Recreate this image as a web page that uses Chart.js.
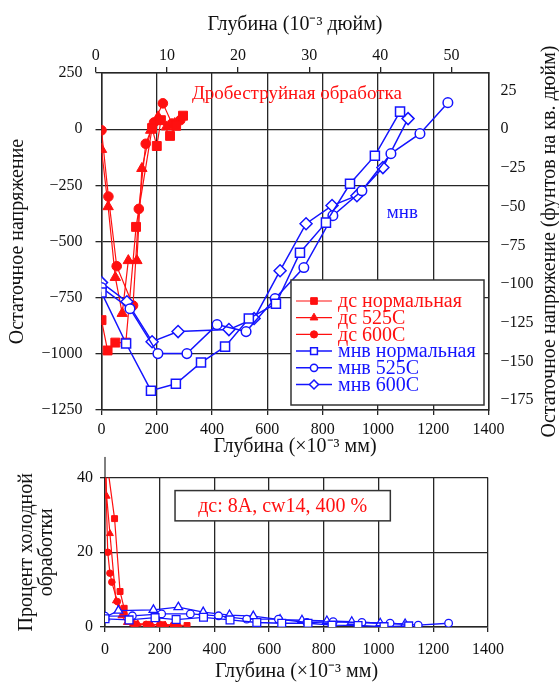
<!DOCTYPE html>
<html lang="ru">
<head>
<meta charset="UTF-8">
<title>Остаточное напряжение и процент холодной обработки</title>
<script src="https://cdn.jsdelivr.net/npm/chart.js"></script>
<style>
    html, body { margin: 0; padding: 0; background: #fff; overflow: hidden; }
    #wrap { position: relative; width: 559px; height: 685px; }
    canvas { position: absolute; left: 0; }
    #stressChart { top: 0; width: 559px; height: 470px; }
    #coldChart { top: 440px; width: 559px; height: 255px; }
</style>
</head>
<body>
<div id="wrap">
    <canvas id="stressChart" width="559" height="470"></canvas>
    <canvas id="coldChart" width="559" height="255"></canvas>
</div>
<script>
// ---- tick labels ----
const depthTicksMm = [0, 200, 400, 600, 800, 1000, 1200, 1400];
const depthTicksIn = [0, 10, 20, 30, 40, 50];
const stressTicksMpa = [-1250, -1000, -750, -500, -250, 0, 250];
const stressTicksKsi = [-175, -150, -125, -100, -75, -50, -25, 0, 25];
const coldTicks = [0, 20, 40];

// ---- residual stress, depth in 10^-3 mm ----
const dsNormDepth  = [0, 22, 50, 88, 125, 183, 200, 215, 248, 270, 295];
const dsNormStress = [-850, -985, -950, -950, -435, 5, -75, 40, -30, 15, 60];
const ds525Depth   = [0, 24, 50, 75, 97, 128, 146, 178, 205, 235, 265];
const ds525Stress  = [-90, -345, -660, -820, -585, -585, -175, -5, 55, 10, 25];
const ds600Depth   = [0, 25, 55, 114, 135, 160, 190, 222, 255, 285];
const ds600Stress  = [-5, -300, -610, -785, -355, -65, 30, 115, 25, 40];

const mnvNormDepth  = [0, 89, 179, 269, 360, 447, 533, 631, 718, 812, 899, 989, 1080];
const mnvNormStress = [-727, -954, -1164, -1133, -1039, -968, -843, -777, -550, -416, -243, -118, 78];
const mnv525Depth   = [0, 103, 204, 309, 418, 523, 628, 732, 837, 942, 1047, 1152, 1253];
const mnv525Stress  = [-705, -799, -999, -999, -870, -901, -754, -616, -385, -274, -109, -20, 118];
const mnv600Depth   = [0, 92, 183, 277, 461, 552, 646, 740, 834, 924, 1018, 1109];
const mnv600Stress  = [-683, -768, -946, -901, -892, -843, -630, -421, -340, -296, -171, 47];

// ---- cold work percent ----
const cwDsNormDepth = [0, 35, 55, 70, 85, 110, 160, 210, 260, 300];
const cwDsNormPct   = [48, 29, 9.5, 5, 2, 0.8, 0.7, 0.6, 0.5, 0.4];
const cwDs525Depth  = [0, 6, 18, 40, 60, 80, 120, 170, 220, 270];
const cwDs525Pct    = [48, 35, 25, 7, 3, 1.2, 0.8, 0.6, 0.5, 0.4];
const cwDs600Depth  = [0, 10, 18, 25, 45, 70, 100, 150, 200, 250];
const cwDs600Pct    = [48, 20, 14.4, 12, 6.8, 3.5, 1, 0.7, 0.6, 0.5];

const cwMnvNormDepth = [0, 88, 183, 260, 360, 457, 555, 646, 742, 830, 925, 1020, 1110];
const cwMnvNormPct   = [2.2, 1.9, 2.5, 2.0, 2.6, 1.9, 1.2, 1.0, 1.0, 0.5, 0.4, 0.1, 0.3];
const cwMnv525Depth  = [0, 100, 207, 312, 415, 518, 634, 738, 834, 939, 1042, 1145, 1256];
const cwMnv525Pct    = [2.9, 3.0, 3.5, 3.5, 3.0, 2.1, 2.1, 1.2, 1.4, 1.2, 1.0, 0.5, 1.0];
const cwMnv600Depth  = [0, 49, 177, 268, 359, 455, 542, 640, 720, 811, 902, 1006, 1097];
const cwMnv600Pct    = [2.6, 4.4, 4.6, 5.3, 4.0, 3.2, 2.9, 2.0, 1.8, 1.6, 1.4, 1.0, 0.8];

// off-scale arrow at zero depth
const arrowDepth = [0, 0];
const arrowPct = [40, 45.5];

const MPA_PER_KSI = 6.895;
const MM_PER_MIL = 25.4;

const FONT = '"Liberation Serif", "Times New Roman", serif';
const INK = '#111';
const GRID = '#262626';
const RED = '#ff1010';
const BLUE = '#1414ff';

const tickFont = { family: FONT, size: 16, lineHeight: 1.2 };
const titleFont = { family: FONT, size: 20, lineHeight: 1.0 };

function pts(xs, ys) {
    return xs.map((x, i) => ({ x: x, y: ys[i] }));
}

// plain numbers, with a real minus sign and no thousands separator
function plainNum(v) {
    return v < 0 ? '\u2212' + Math.abs(v) : String(v);
}

function fixedTicks(list) {
    return function(scale) {
        scale.ticks = list.map(v => ({ value: v }));
    };
}

function redSet(label, xs, ys, style, r) {
    return {
        label: label, data: pts(xs, ys), order: 1,
        borderColor: RED, backgroundColor: RED, borderWidth: 1.2,
        pointStyle: style, pointRadius: r, pointBorderWidth: 1,
        pointBackgroundColor: RED, pointBorderColor: RED
    };
}

function blueSet(label, xs, ys, style, r) {
    return {
        label: label, data: pts(xs, ys), order: 0,
        borderColor: BLUE, backgroundColor: '#fff', borderWidth: 1.5,
        pointStyle: style, pointRadius: r, pointBorderWidth: 1.5,
        pointBackgroundColor: '#fff', pointBorderColor: BLUE
    };
}

// simple marker painter for the hand drawn legend
function drawMarker(ctx, style, x, y, r) {
    ctx.beginPath();
    if (style === 'rect') {
        const s = r * Math.SQRT1_2;
        ctx.rect(x - s, y - s, 2 * s, 2 * s);
    } else if (style === 'triangle') {
        ctx.moveTo(x, y - r);
        ctx.lineTo(x + r * 0.866, y + r * 0.5);
        ctx.lineTo(x - r * 0.866, y + r * 0.5);
        ctx.closePath();
    } else if (style === 'rectRot') {
        ctx.moveTo(x, y - r);
        ctx.lineTo(x + r, y);
        ctx.lineTo(x, y + r);
        ctx.lineTo(x - r, y);
        ctx.closePath();
    } else {
        ctx.arc(x, y, r, 0, Math.PI * 2);
    }
    ctx.fill();
    ctx.stroke();
}

const stressLegend = {
    id: 'stressLegend',
    afterDatasetsDraw(chart) {
        const ctx = chart.ctx;
        ctx.save();
        ctx.fillStyle = '#fff';
        ctx.fillRect(291, 280, 193, 125);
        ctx.strokeStyle = '#333';
        ctx.lineWidth = 1.5;
        ctx.strokeRect(291, 280, 193, 125);
        chart.data.datasets.forEach((ds, i) => {
            const y = 301 + i * 16.7;
            ctx.strokeStyle = ds.borderColor;
            ctx.lineWidth = ds.borderWidth;
            ctx.beginPath();
            ctx.moveTo(296, y);
            ctx.lineTo(332, y);
            ctx.stroke();
            ctx.fillStyle = ds.pointBackgroundColor;
            ctx.strokeStyle = ds.pointBorderColor;
            ctx.lineWidth = ds.pointBorderWidth;
            drawMarker(ctx, ds.pointStyle, 314, y, ds.pointRadius * 0.75);
            ctx.fillStyle = ds.borderColor;
            ctx.font = '20px ' + FONT;
            ctx.textAlign = 'left';
            ctx.textBaseline = 'middle';
            ctx.fillText(ds.label, 338, y + 1);
        });
        ctx.restore();
    }
};

const stressNotes = {
    id: 'stressNotes',
    afterDraw(chart) {
        const ctx = chart.ctx;
        const x = chart.scales.x, y = chart.scales.y, area = chart.chartArea;
        ctx.save();
        ctx.font = '19px ' + FONT;
        ctx.textBaseline = 'middle';
        ctx.textAlign = 'left';
        ctx.fillStyle = RED;
        ctx.fillText('Дробеструйная обработка', x.getPixelForValue(327), y.getPixelForValue(158));
        ctx.fillStyle = BLUE;
        ctx.fillText('мнв', x.getPixelForValue(1032), y.getPixelForValue(-372));
        // right axis title reads bottom to top like the left one
        ctx.fillStyle = INK;
        ctx.font = '20px ' + FONT;
        ctx.textAlign = 'center';
        ctx.translate(550, (area.top + area.bottom) / 2);
        ctx.rotate(-Math.PI / 2);
        ctx.fillText('Остаточное напряжение (фунтов на кв. дюйм)', 0, 0);
        ctx.restore();
    }
};

const coldNote = {
    id: 'coldNote',
    afterDatasetsDraw(chart) {
        const ctx = chart.ctx;
        const x = chart.scales.x, y = chart.scales.y;
        const x0 = x.getPixelForValue(256), x1 = x.getPixelForValue(1043);
        const y0 = y.getPixelForValue(36.5), y1 = y.getPixelForValue(28.4);
        ctx.save();
        ctx.fillStyle = '#fff';
        ctx.fillRect(x0, y0, x1 - x0, y1 - y0);
        ctx.strokeStyle = '#333';
        ctx.lineWidth = 1.5;
        ctx.strokeRect(x0, y0, x1 - x0, y1 - y0);
        ctx.fillStyle = RED;
        ctx.font = '20px ' + FONT;
        ctx.textAlign = 'center';
        ctx.textBaseline = 'middle';
        ctx.fillText('дс: 8А, cw14, 400 %', (x0 + x1) / 2, (y0 + y1) / 2 + 1);
        ctx.restore();
    }
};

const stressChart = new Chart(document.getElementById('stressChart'), {
    type: 'line',
    data: {
        datasets: [
            redSet('дс нормальная', dsNormDepth, dsNormStress, 'rect', 6.3),
            redSet('дс 525С', ds525Depth, ds525Stress, 'triangle', 6),
            redSet('дс 600С', ds600Depth, ds600Stress, 'circle', 4.8),
            blueSet('мнв нормальная', mnvNormDepth, mnvNormStress, 'rect', 6.4),
            blueSet('мнв 525С', mnv525Depth, mnv525Stress, 'circle', 4.8),
            blueSet('мнв 600С', mnv600Depth, mnv600Stress, 'rectRot', 6)
        ]
    },
    options: {
        responsive: false,
        animation: false,
        layout: { padding: 0 },
        plugins: { legend: { display: false }, tooltip: { enabled: false } },
        scales: {
            x: {
                type: 'linear', position: 'bottom', min: 0, max: 1400,
                afterBuildTicks: fixedTicks(depthTicksMm),
                afterFit: s => { s.height = 60; },
                grid: { color: GRID, lineWidth: 1.3, tickLength: 5 },
                border: { color: GRID, width: 1.5 },
                ticks: { font: tickFont, color: INK, padding: 5, autoSkip: false, maxRotation: 0, callback: plainNum },
                title: { display: true, text: 'Глубина (×10⁻³ мм)', font: titleFont, color: INK, padding: { top: 0, bottom: 13 } }
            },
            x2: {
                type: 'linear', position: 'top', min: 0.8, max: 1400 / MM_PER_MIL + 0.1,
                afterBuildTicks: fixedTicks(depthTicksIn),
                afterFit: s => { s.height = 73; },
                grid: { drawOnChartArea: false, color: GRID, lineWidth: 1.3, tickLength: 6 },
                border: { color: GRID, width: 1.5 },
                ticks: { font: tickFont, color: INK, padding: 2, autoSkip: false, maxRotation: 0, callback: plainNum },
                title: { display: true, text: 'Глубина (10⁻³ дюйм)', font: titleFont, color: INK, padding: { top: 15, bottom: 0 } }
            },
            y: {
                type: 'linear', position: 'left', min: -1250, max: 250,
                afterBuildTicks: fixedTicks(stressTicksMpa),
                afterFit: s => { s.width = 101.5; },
                grid: { color: GRID, lineWidth: 1.3, tickLength: 6 },
                border: { color: GRID, width: 1.5 },
                ticks: { font: tickFont, color: INK, padding: 13, autoSkip: false, callback: plainNum },
                title: { display: true, text: 'Остаточное напряжение', font: titleFont, color: INK, padding: { top: 8, bottom: 0 } }
            },
            y2: {
                type: 'linear', position: 'right',
                min: -1250 / MPA_PER_KSI, max: 250 / MPA_PER_KSI,
                afterBuildTicks: fixedTicks(stressTicksKsi),
                afterFit: s => { s.width = 70.5; },
                grid: { drawOnChartArea: false, drawTicks: false },
                border: { color: GRID, width: 1.5 },
                ticks: { font: tickFont, color: INK, padding: 12, autoSkip: false, callback: plainNum }
            }
        }
    },
    plugins: [stressLegend, stressNotes]
});

function redCold(label, xs, ys, style, r) {
    const ds = redSet(label, xs, ys, style, r);
    ds.borderWidth = 1.2;
    return ds;
}

function blueCold(label, xs, ys, style, r) {
    const ds = blueSet(label, xs, ys, style, r);
    ds.borderWidth = 1.3;
    ds.pointBorderWidth = 1.3;
    return ds;
}

const coldChart = new Chart(document.getElementById('coldChart'), {
    type: 'line',
    data: {
        datasets: [
            {
                label: 'стрелка', data: pts(arrowDepth, arrowPct), order: -1, clip: false,
                borderColor: '#000', borderWidth: 1, pointStyle: 'triangle',
                pointRadius: [0, 3], pointBackgroundColor: '#000', pointBorderColor: '#000'
            },
            redCold('дс нормальная', cwDsNormDepth, cwDsNormPct, 'rect', 4.2),
            redCold('дс 525С', cwDs525Depth, cwDs525Pct, 'triangle', 4),
            redCold('дс 600С', cwDs600Depth, cwDs600Pct, 'circle', 3.3),
            blueCold('мнв нормальная', cwMnvNormDepth, cwMnvNormPct, 'rect', 5.5),
            blueCold('мнв 525С', cwMnv525Depth, cwMnv525Pct, 'circle', 3.8),
            blueCold('мнв 600С', cwMnv600Depth, cwMnv600Pct, 'triangle', 5)
        ]
    },
    options: {
        responsive: false,
        animation: false,
        layout: { padding: { top: 37.5, right: 71, left: 0, bottom: 0 } },
        plugins: { legend: { display: false }, tooltip: { enabled: false } },
        scales: {
            x: {
                type: 'linear', position: 'bottom', min: 0, max: 1400,
                afterBuildTicks: fixedTicks(depthTicksMm),
                afterFit: s => { s.height = 68; },
                grid: { color: GRID, lineWidth: 1.3, tickLength: 5 },
                border: { color: GRID, width: 1.5 },
                ticks: { font: tickFont, color: INK, padding: 8, autoSkip: false, maxRotation: 0, callback: plainNum },
                title: { display: true, text: 'Глубина (×10⁻³ мм)', font: titleFont, color: INK, padding: { top: 0, bottom: 13 } }
            },
            y: {
                type: 'linear', position: 'left', min: 0, max: 40,
                afterBuildTicks: fixedTicks(coldTicks),
                afterFit: s => { s.width = 105; },
                grid: { color: GRID, lineWidth: 1.3, tickLength: 5 },
                border: { color: GRID, width: 1.5 },
                ticks: { font: tickFont, color: INK, padding: 7, autoSkip: false, callback: plainNum },
                title: { display: true, text: ['Процент холодной', 'обработки'], font: titleFont, color: INK, padding: { top: 17, bottom: 0 } }
            }
        }
    },
    plugins: [coldNote]
});
</script>
</body>
</html>
